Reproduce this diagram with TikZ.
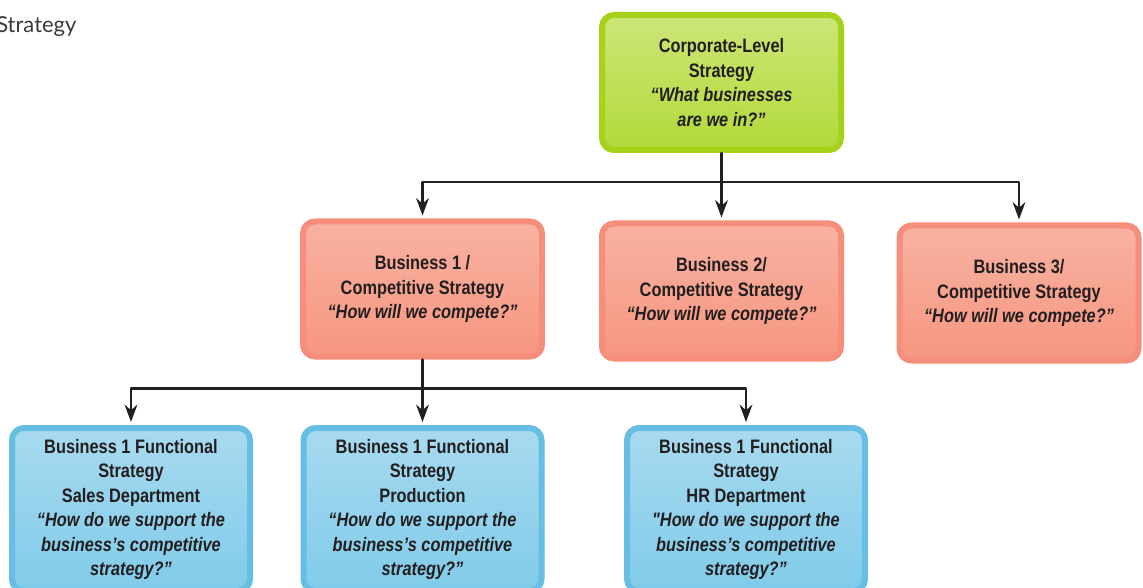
\documentclass[tikz,border=0pt]{standalone}
\usepackage{fontspec}
\setmainfont{Liberation Sans}
\newfontfamily\boxfont{Liberation Sans}[FakeStretch=0.84]
\newfontfamily\titlefont{Lato}
\usepackage{tikz}
\usetikzlibrary{arrows.meta}
\definecolor{txtgray}{HTML}{231F20}
\definecolor{titlegray}{HTML}{3A3A3A}
\definecolor{greenedge}{HTML}{A6D21C}
\definecolor{greentop}{HTML}{CDE677}
\definecolor{greenbot}{HTML}{B2D93A}
\definecolor{rededge}{HTML}{F58E7A}
\definecolor{redtop}{HTML}{F8B2A2}
\definecolor{redbot}{HTML}{F69680}
\definecolor{blueedge}{HTML}{66BFE3}
\definecolor{bluetop}{HTML}{A8DAEF}
\definecolor{bluebot}{HTML}{80CBEA}
\begin{document}
\begin{tikzpicture}[line cap=round,line join=round,>={Stealth[length=13pt,width=9.5pt]},x=0.75pt,y=-0.75pt,
  box/.style={rounded corners=9pt,line width=4.5pt,align=center,inner sep=0pt,text=txtgray,
    font=\boxfont\bfseries\fontsize{14.6}{18.4}\selectfont},
  corpbox/.style={box,draw=greenedge,top color=greentop,middle color=greentop,bottom color=greenbot,
    minimum width=179.25pt,minimum height=101.25pt},
  busbox/.style={box,draw=rededge,top color=redtop,middle color=redtop,bottom color=redbot,
    minimum width=179.25pt,minimum height=101.25pt},
  funbox/.style={box,draw=blueedge,top color=bluetop,middle color=bluetop,bottom color=bluebot,
    minimum width=178.5pt,minimum height=122.25pt},
  link/.style={line width=2.1pt,draw=txtgray,shorten >=2.25pt}]
\useasboundingbox (0,0) rectangle (1143,588);
\node[anchor=base west,inner sep=0pt,font=\titlefont\fontsize{16.5}{19}\selectfont,text=titlegray] (title) at (-4,33) {Strategy};
% corporate level
\node[corpbox] (corp) at (721.5,82.5) {Corporate-Level\\Strategy\\\textit{“What businesses}\\\textit{are we in?”}};
% business level
\node[busbox] (bus1) at (422.5,289) {Business 1 /\\Competitive Strategy\\\textit{“How will we compete?”}};
\node[busbox] (bus2) at (721.5,291) {Business 2/\\Competitive Strategy\\\textit{“How will we compete?”}};
\node[busbox] (bus3) at (1019,293) {Business 3/\\Competitive Strategy\\\textit{“How will we compete?”}};
% functional level
\node[funbox] (fun1) at (131,509.5) {Business 1 Functional\\Strategy\\Sales Department\\\textit{“How do we support the}\\\textit{business’s competitive}\\\textit{strategy?”}};
\node[funbox] (fun2) at (422.5,509.5) {Business 1 Functional\\Strategy\\Production\\\textit{“How do we support the}\\\textit{business’s competitive}\\\textit{strategy?”}};
\node[funbox] (fun3) at (746,509.5) {Business 1 Functional\\Strategy\\HR Department\\\textit{"How do we support the}\\\textit{business’s competitive}\\\textit{strategy?”}};
% connectors
\draw[link,shorten >=0pt] (corp.south) -- ++(0,29) coordinate (hub1);
\draw[link,->] (hub1) -| (bus1.north);
\draw[link,->] (hub1) -- (bus2.north);
\draw[link,->] (hub1) -| (bus3.north);
\draw[link,shorten >=0pt] (bus1.south) -- ++(0,29) coordinate (hub2);
\draw[link,->] (hub2) -| (fun1.north);
\draw[link,->] (hub2) -- (fun2.north);
\draw[link,->] (hub2) -| (fun3.north);
\end{tikzpicture}
\end{document}
